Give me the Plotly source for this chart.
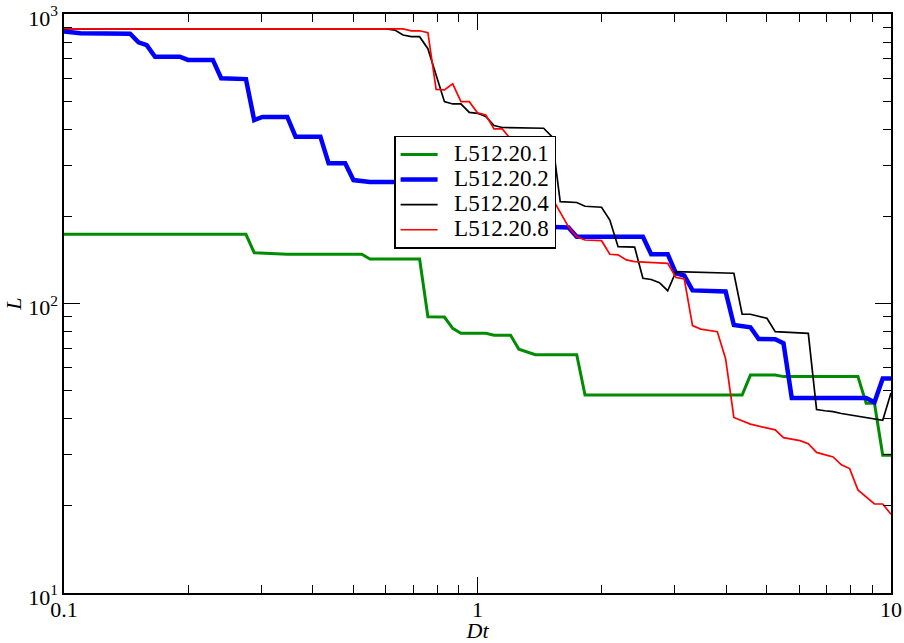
import plotly.graph_objects as go

# ---- data (Dt, L) ----
green_x = [0.1, 0.2754, 0.2884, 0.3162, 0.3467, 0.5248, 0.5495, 0.7244, 0.7586, 0.8318, 0.8710, 0.9120,
           1.0471, 1.0965, 1.2023, 1.2589, 1.3804, 1.7378, 1.8197, 4.3652, 4.5709, 5.2481, 5.4954,
           8.3176, 8.7096, 9.1201, 9.5499, 10.0]
green_y = [173.4, 173.4, 149.8, 149.0, 147.9, 147.9, 142.5, 142.5, 90.0, 89.8, 82.1, 78.9,
           78.9, 77.7, 77.7, 69.5, 66.5, 66.5, 48.3, 48.3, 56.6, 56.6, 55.9,
           55.9, 45.2, 45.2, 29.9, 29.9]

blue_x = [0.1, 0.1096, 0.1445, 0.1514, 0.1585, 0.1660, 0.1905, 0.1995, 0.2291, 0.2399, 0.2754, 0.2884,
          0.3020, 0.3467, 0.3631, 0.4169, 0.4365, 0.4786, 0.5012, 0.5495, 0.6310, 0.7586, 0.7943,
          1.0, 1.0471, 1.2589, 1.3183, 1.5849, 1.6596, 1.7378, 2.5119, 2.6303, 2.8840, 3.0200,
          3.1623, 3.3113, 3.9811, 4.1687, 4.5709, 4.7863, 5.2481, 5.4954, 5.7544, 8.7096, 9.1201,
          9.5499, 10.0]
blue_y = [870, 858, 855, 798, 781, 712, 712, 694, 694, 600, 596, 430,
          441, 441, 377, 377, 305, 305, 267, 263, 263, 262, 230,
          228, 200, 198, 185, 183, 183, 170, 170, 148, 148, 127,
          125, 111, 110, 84.3, 82.8, 75.4, 75.3, 72.9, 47.2, 47.2, 45.6,
          55.1, 55.1]

black_x = [0.1, 0.6026, 0.6310, 0.6607, 0.6918, 0.7244, 0.7586, 0.7943, 0.8318, 0.8710, 0.9120, 0.9550,
           1.0, 1.0471, 1.0965, 1.1482, 1.4454, 1.5136, 1.5849, 1.7378, 1.8197, 1.9953, 2.0893,
           2.1878, 2.3988, 2.5119, 2.6303, 2.7542, 2.8840, 3.0200, 3.4674, 4.1687, 4.3652, 4.5709,
           5.0119, 5.2481, 6.3096, 6.6069, 6.9183, 7.2444, 7.5858, 8.3176, 8.7096, 9.1201, 9.5499, 10.0]
black_y = [888, 888, 880, 846, 835, 835, 759, 620, 498, 489, 489, 457,
           454, 443, 412, 405.5, 403, 377, 224.7, 223.3, 216.7, 215, 194.3,
           157.1, 156.7, 122.2, 121, 118, 110.7, 128.8, 127.8, 127.2, 91.8, 91.8,
           88.9, 79.9, 78.9, 43.0, 42.6, 42.3, 41.7, 40.8, 40.6, 40.1, 39.5, 49.1]

red_x = [0.1, 0.1047, 0.6607, 0.6918, 0.7244, 0.7586, 0.7943, 0.8318, 0.8710, 0.9120, 0.9550,
         1.0, 1.0471, 1.0965, 1.1482, 1.2023, 1.2589, 1.3183, 1.3804, 1.4454, 1.5136, 1.5849,
         1.6596, 1.7378, 1.8197, 1.9953, 2.0893, 2.1878, 2.2909, 2.3988, 2.8840, 3.0200, 3.1623,
         3.3113, 3.4674, 3.8019, 3.9811, 4.1687, 4.3652, 4.5709, 5.2481, 5.4954, 6.0256, 6.3096,
         6.6069, 7.2444, 7.5858, 7.9433, 8.3176, 8.7096, 9.1201, 9.5499, 10.0]
red_y = [893, 889, 889, 875, 875, 862, 549, 547, 574, 498, 498,
         456, 448, 401, 401, 370, 335, 320, 285, 262, 232, 207,
         184, 170, 165.7, 164.8, 147.9, 147.2, 141.4, 139.5, 137.7, 123, 121.7,
         83.9, 81.6, 79.9, 64.5, 40.4, 39.3, 38.3, 36.6, 34.4, 33.6, 32.8,
         30.6, 29.5, 27.7, 26.9, 22.7, 21.5, 20.3, 20.3, 18.7]

series_names = ["L512.20.1", "L512.20.2", "L512.20.4", "L512.20.8"]

x_tickvals = [0.1, 1, 10]
x_ticktext = ["0.1", "1", "10"]
x_minor = [0.2, 0.3, 0.4, 0.5, 0.6, 0.7, 0.8, 0.9, 2, 3, 4, 5, 6, 7, 8, 9]
y_tickvals = [10, 100, 1000]
y_ticktext = ["10<sup>1</sup>", "10<sup>2</sup>", "10<sup>3</sup>"]
y_minor = [20, 30, 40, 50, 60, 70, 80, 90, 200, 300, 400, 500, 600, 700, 800, 900]

FONT = "Liberation Serif, Times New Roman, Times, DejaVu Serif, serif"

fig = go.Figure()
styles = [("rgb(0,140,0)", 3), ("rgb(0,0,255)", 4.5), ("black", 1.7), ("rgb(255,0,0)", 1.7)]
for (xs, ys), name, (col, w) in zip(
        [(green_x, green_y), (blue_x, blue_y), (black_x, black_y), (red_x, red_y)],
        series_names, styles):
    fig.add_trace(go.Scatter(x=xs, y=ys, mode="lines",
                             name='<span style="font-size:23px">&nbsp;&nbsp;' + name + '</span>',
                             line=dict(color=col, width=w)))

axis_common = dict(
    type="log", showgrid=False, zeroline=False, automargin=False,
    showline=True, linecolor="black", linewidth=1.5, mirror="allticks",
    ticks="inside", ticklen=16, tickwidth=1.3, tickcolor="black",
    tickfont=dict(family=FONT, size=22, color="black"),
    ticklabeloverflow="allow",
)

fig.update_xaxes(**axis_common, range=[-1.00001, 1.00001], tickvals=x_tickvals, ticktext=x_ticktext,
                 ticklabelstandoff=-4,
                 minor=dict(ticks="inside", ticklen=8, tickwidth=1.3, tickcolor="black", tickvals=x_minor),
                 title=dict(text="<i>Dt</i>", font=dict(family=FONT, size=22, color="black"), standoff=3))
fig.update_yaxes(**axis_common, range=[0.99999, 3.00001], tickvals=y_tickvals, ticktext=y_ticktext,
                 ticklabelshift=4,
                 minor=dict(ticks="inside", ticklen=8, tickwidth=1.3, tickcolor="black", tickvals=y_minor),
                 title=dict(text="<i>L</i>", font=dict(family=FONT, size=22, color="black"), standoff=0))

fig.update_layout(
    width=904, height=643,
    margin=dict(l=64, r=13, t=14, b=50),
    paper_bgcolor="white", plot_bgcolor="white",
    font=dict(family=FONT, color="black"),
    showlegend=True,
    legend=dict(x=0.3994, y=0.790, xanchor="left", yanchor="top",
                bgcolor="white", bordercolor="black", borderwidth=1.3,
                font=dict(family=FONT, size=17, color="black"),
                tracegroupgap=0, itemwidth=37),
)

fig.write_html("out.html", config={"displayModeBar": False},
               post_script="document.body.style.margin='0px';")
